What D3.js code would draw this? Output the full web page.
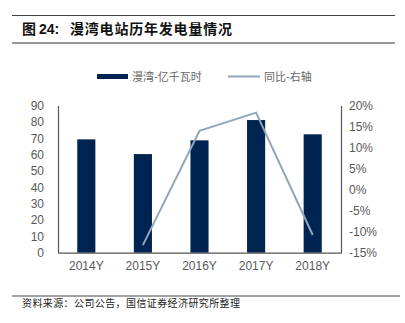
<!DOCTYPE html>
<html><head><meta charset="utf-8">
<script src="https://cdn.jsdelivr.net/npm/d3@7"></script>
<style>body{margin:0;background:#fff}svg{display:block}</style>
</head><body>
<script>
const categories = ["2014Y","2015Y","2016Y","2017Y","2018Y"];
const generation = [69.3, 60.3, 68.7, 81.1, 72.4];
const yoy = [null, -13.2, 14.0, 18.3, -10.8];
const leftTicks = [0,10,20,30,40,50,60,70,80,90];
const rightTicks = [-15,-10,-5,0,5,10,15,20];
const seriesNames = ["漫湾-亿千瓦时","同比-右轴"];

const W=405,H=323;
const svg=d3.select("body").append("svg").attr("width",W).attr("height",H);
const font="'Liberation Sans', Arial, sans-serif";
const cjk="'Noto Sans CJK SC', sans-serif";
const barColor="#002451", lineColor="#8FA5B9", txt="#595959";

// header
svg.append("line").attr("x1",12).attr("x2",395).attr("y1",15.5).attr("y2",15.5).attr("stroke","#444").attr("stroke-width",1);
svg.append("line").attr("x1",12).attr("x2",395).attr("y1",43).attr("y2",43).attr("stroke","#999").attr("stroke-width",2);
svg.append("text").attr("x",22).attr("y",34).attr("font-size",14).attr("font-weight","bold").attr("fill","#111").attr("font-family",cjk).text("图");
svg.append("text").attr("x",39).attr("y",34).attr("font-size",14).attr("font-weight","bold").attr("fill","#111").attr("font-family",font).text("24:");
svg.append("text").attr("x",70).attr("y",34).attr("font-size",14).attr("font-weight","bold").attr("fill","#111").attr("font-family",cjk).attr("letter-spacing",0.8).text("漫湾电站历年发电量情况");

const x0=58,x1=341,yTop=105.5,yBot=252.7;
const x=d3.scaleBand().domain(categories).range([x0,x1]).paddingInner(0.68).paddingOuter(0.34);
const yL=d3.scaleLinear().domain([0,90]).range([yBot,yTop]);
const yR=d3.scaleLinear().domain([-15,20]).range([yBot,yTop]);

svg.selectAll("rect.bar").data(generation).join("rect").attr("class","bar")
 .attr("x",(d,i)=>x(categories[i])).attr("width",x.bandwidth())
 .attr("y",d=>yL(d)).attr("height",d=>yBot-yL(d)).attr("fill",barColor);

const line=d3.line().defined(d=>d.v!=null).x(d=>x(d.c)+x.bandwidth()/2).y(d=>yR(d.v));
svg.append("path").datum(categories.map((c,i)=>({c,v:yoy[i]})))
 .attr("d",line).attr("fill","none").attr("stroke",lineColor).attr("stroke-width",2);

// axes
const gL=svg.append("g").attr("transform",`translate(${x0},0)`)
 .call(d3.axisLeft(yL).tickValues(leftTicks).tickSize(0).tickPadding(14));
const gR=svg.append("g").attr("transform",`translate(${x1},0)`)
 .call(d3.axisRight(yR).tickValues(rightTicks).tickSize(0).tickPadding(8).tickFormat(d=>d+"%"));
const gB=svg.append("g").attr("transform",`translate(0,${yBot})`)
 .call(d3.axisBottom(x).tickSize(0).tickPadding(9));
[gL,gR,gB].forEach(g=>{
 g.selectAll("text").attr("font-family",font).attr("font-size",12).attr("fill",txt);
 g.select(".domain").attr("stroke","#555").attr("stroke-width",1.2);
});
gL.selectAll("text").attr("text-anchor","end");

// legend
svg.append("rect").attr("x",97).attr("y",74).attr("width",31).attr("height",5).attr("fill",barColor);
svg.append("text").attr("x",132).attr("y",81).attr("font-family",cjk).attr("font-size",11).attr("fill","#666").text(seriesNames[0]);
svg.append("line").attr("x1",228).attr("x2",260).attr("y1",76.5).attr("y2",76.5).attr("stroke",lineColor).attr("stroke-width",2);
svg.append("text").attr("x",264).attr("y",81).attr("font-family",cjk).attr("font-size",11).attr("fill","#666").text(seriesNames[1]);

// footer
svg.append("line").attr("x1",12).attr("x2",400).attr("y1",296).attr("y2",296).attr("stroke","#444").attr("stroke-width",1);
svg.append("text").attr("x",22).attr("y",306.5).attr("font-family",cjk).attr("font-size",10).attr("letter-spacing",0.4).attr("fill","#222").text("资料来源：公司公告，国信证券经济研究所整理");
</script>
</body></html>
